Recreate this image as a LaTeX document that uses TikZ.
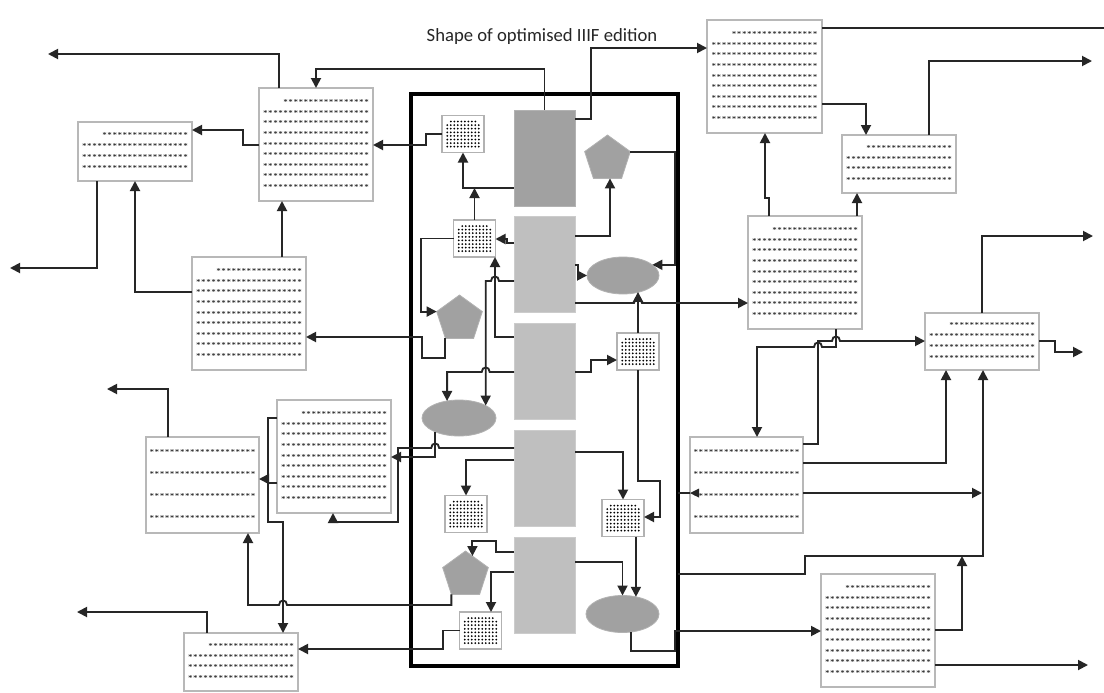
\documentclass[tikz,border=0pt]{standalone}
\usepackage{fontspec}
\newfontfamily\carlito{Carlito}
\usetikzlibrary{arrows.meta,shapes.geometric,calc}

\newcommand{\sA}{*****************}
\newcommand{\sB}{*********************}
\newcommand{\nineL}{\sA\\\sB\\\sB\\\sB\\\sB\\\sB\\\sB\\\sB\\\sB}
\newcommand{\fourL}{\sA\\\sB\\\sB\\\sB}
\newcommand{\fourE}{\sB\\\sB\\\sB\\\sB}

\tikzset{
 ln/.style={draw=black!85, line width=1.4pt},
 arr/.style={ln, -{Triangle[length=7.5pt,width=7.5pt]}},
 doc/.style={draw=black!28, line width=0.9pt, fill=white, inner sep=0pt, outer sep=0pt, align=right, text=black!85, font=\bfseries\fontsize{5}{7.9}\selectfont},
 docE/.style={doc, font=\bfseries\fontsize{5}{16.5}\selectfont},
 docF/.style={doc, font=\bfseries\fontsize{5}{8.2}\selectfont},
 blkA/.style={fill=black!37, draw=black!30, line width=0.6pt, minimum width=45.75pt, minimum height=72pt, inner sep=0pt, outer sep=0pt},
 blkB/.style={blkA, fill=black!25, draw=black!20},
 gbx/.style={draw=black!30, fill=white, line width=0.8pt, minimum width=31.5pt, minimum height=27.75pt, inner sep=0pt, outer sep=0pt},
 pent/.style={regular polygon, regular polygon sides=5, minimum size=36pt, fill=black!37, draw=black!30, line width=0.6pt, inner sep=0pt, outer sep=0pt},
 ell/.style={ellipse, fill=black!37, draw=black!30, line width=0.6pt, inner sep=0pt, outer sep=0pt},
 frm/.style={draw=black, line width=2.4pt, minimum width=200.25pt, minimum height=429pt, inner sep=0pt, outer sep=0pt},
}

\newcommand{\docbox}[7]{\node[#7, minimum width={(#4-#2)*0.75pt}, minimum height={(#5-#3)*0.75pt}] (#1) at ({(#2+#4)/2},{(#3+#5)/2}) {#6};}

\newcommand{\gbox}[3]{%
 \node[gbx] (#1) at (#2,#3) {};
 \foreach \gi in {1,...,8} {\fill[black] ({#2-15.75+3.5*\gi},{#3-12.5}) circle (1.0);}
 \foreach \gj in {1,...,7} {\foreach \gi in {0,...,9} {\fill[black] ({#2-15.75+3.5*\gi},{#3-12.5+3.6*\gj}) circle (1.0);}}
}

\begin{document}
\begin{tikzpicture}[x=0.75pt,y=-0.75pt]
\fill[white] (0,0) rectangle (1104,693);
\useasboundingbox (0,0) rectangle (1104,693);

\node[font=\carlito\fontsize{14}{16}\selectfont, text=black!85, anchor=base] (title) at (542,41.5) {Shape of optimised IIIF edition};

\node[frm] (frame) at (544.5,380) {};

% blocks
\node[blkA] (r1) at (544.5,158) {};
\node[blkB] (r2) at (544.5,264) {};
\node[blkB] (r3) at (544.5,371) {};
\node[blkB] (r4) at (544.5,478) {};
\node[blkB] (r5) at (544.5,585) {};

% pentagons
\node[pent] (P1) at (607.5,159) {};
\node[pent] (P2) at (459.5,319) {};
\node[pent] (P3) at (465.5,575) {};

% ellipses
\node[ell, minimum width=54pt, minimum height=27.75pt] (E1) at (623,275.5) {};
\node[ell, minimum width=55.5pt, minimum height=27pt] (E2) at (459,418) {};
\node[ell, minimum width=54.75pt, minimum height=27.75pt] (E3) at (622.5,614) {};

% grid boxes
\gbox{G1}{463}{134}
\gbox{G2}{474.5}{238.5}
\gbox{G3}{638}{351.5}
\gbox{G4}{466}{514}
\gbox{G5}{623}{518}
\gbox{G6}{480.5}{630.5}

% text boxes
\docbox{L1}{78}{122}{192}{181}{\fourL}{docF}
\docbox{L2}{259}{88}{373}{201}{\nineL}{doc}
\docbox{L3}{192}{257}{306}{370}{\nineL}{doc}
\docbox{L4}{146}{437}{259}{533}{\fourE}{docE}
\docbox{L5}{277}{400}{391}{513}{\nineL}{doc}
\docbox{L6}{184}{633}{298}{691}{\fourL}{docF}
\docbox{R1}{707}{20}{822}{133}{\nineL}{doc}
\docbox{R2}{842}{135}{956}{193}{\fourL}{docF}
\docbox{R3}{748}{216}{862}{329}{\nineL}{doc}
\docbox{R4}{925}{313}{1039}{370}{\fourL}{docF}
\docbox{R5}{690}{437}{803}{533}{\fourE}{docE}
\docbox{R6}{821}{574}{935}{687}{\nineL}{doc}

% helper coordinates
\coordinate (o1) at (48,54);
\coordinate (o2) at (10,268);
\coordinate (o3) at (107,389);
\coordinate (o4) at (77,612);
\coordinate (o5) at (1092,61);
\coordinate (o6) at (1093,236);
\coordinate (o7) at (1083,352);
\coordinate (o8) at (1088,665);
\coordinate (o9) at (1104,28);
\coordinate (j1) at (982,493);
\coordinate (j2) at (962,556);
\coordinate (P2c3) at (P2.corner 3);
\coordinate (P2c2) at (P2.corner 2);
\coordinate (P3c3) at (P3.corner 3);
\coordinate (P1c5) at (P1.corner 5);

% left side connectors
\draw[arr] (L2.north -| 279,0) |- (o1);
\draw[arr] (r1.north) |- (316,69) -- (L2.north -| 316,0);
\draw[arr] (L2.west |- 0,145) -- (243,145) |- (L1.east |- 0,130);
\draw[arr] (G1.west) -- (426,134) |- (L2.east |- 0,145);
\draw[arr] (L1.south -| 97,0) |- (o2);
\draw[arr] (L3.west |- 0,292) -| (L1.south -| 135,0);
\draw[arr] (L3.north -| 282,0) -- (L2.south -| 282,0);
\draw[arr] (P2c3) -- (P2c3 |- 0,358) -| (422,337) -- (L3.east |- 0,337);

% inside frame, upper part
\draw[arr] (r1.west |- 0,188) -| (G1.south);
\draw[arr] (G2.north) -- (G2.north |- 0,188);
\draw[arr] (r1.east |- 0,119) -- (591,119) |- (R1.west |- 0,48);
\draw[arr] (P1c5) -- (P1c5 -| 675,0) |- (E1.20);
\draw[arr] (r2.east |- 0,236) -| (P1.south -| 610,0);
\draw[arr] (r2.west |- 0,243) -- (507,243) |- (G2.east |- 0,239);
\draw[arr] (r2.east |- 0,265) -- (578,265) |- (E1.west);
\draw[arr] (G2.west) -- (421,238.5) |- (P2c2);
\draw[arr] (r2.west |- 0,281) -- (499,281) .. controls (499,275) and (491,275) .. (491,281) -| (E2.25);
\draw[arr] (r3.west |- 0,337) -| (G2.south -| 495,0);
\draw[arr] (r3.west |- 0,372) -- (489.7,372) .. controls (489.7,366) and (481.7,366) .. (481.7,372) -| (E2.125);
\draw[arr] (r3.east |- 0,372) -- (591,372) |- (G3.west |- 0,360);
\draw[arr] (G3.north) -- (G3.north |- E1.315);
\draw[arr] (r2.east |- 0,303) -- (634,303) .. controls (634,297) and (642,297) .. (642,303) -- (R3.west |- 0,303);
\draw[arr] (G3.south) -- (G3.south |- 0,481) -| (660,517) -- (G5.east |- 0,517);

% inside frame, lower part
\draw[arr] (E2.210) -- (E2.210 |- 0,457) -- (L5.east |- 0,457);
\draw[arr] (r4.west |- 0,448) -- (439.2,448) .. controls (439.2,442) and (431.2,442) .. (431.2,448) -- (398,448) |- (333,522) -- (L5.south -| 333,0);
\draw[arr] (r4.west |- 0,460) -| (G4.north);
\draw[arr] (r4.east |- 0,452) -| (G5.north);
\draw[arr] (r5.east |- 0,562) -| (E3.north);
\draw[arr] (G5.south -| E3.52) -- (E3.52);
\draw[arr] (r5.west |- 0,552) -- (496,552) |- (P3.70 |- 0,541) -- (P3.70);
\draw[arr] (r5.west |- 0,572) -| (G6.north -| 491,0);
\draw[arr] (E3.295) -- (E3.295 |- 0,651) -- (675,651) |- (R6.west |- 0,631);

% lower left connectors
\draw[arr] (L5.west |- 0,418) -- (268,418) |- (L4.east |- 0,479);
\draw[arr] (L5.west |- 0,483) -- (268,483) |- (283,522) -- (L6.north -| 283,0);
\draw[arr] (L4.north -| 168,0) |- (o3);
\draw[arr] (P3c3) -- (P3c3 |- 0,605) -- (287,605) .. controls (287,599) and (279,599) .. (279,605) -| (L4.south -| 248,0);
\draw[arr] (L6.north -| 207,0) |- (o4);
\draw[arr] (G6.west) -- (G6.west -| 443,0) |- (L6.east |- 0,649);

% right side connectors
\draw[ln] (R1.east |- 0,28) -- (o9);
\draw[arr] (R1.east |- 0,104) -| (R2.north -| 866,0);
\draw[arr] (R2.north -| 929,0) |- (o5);
\draw[arr] (R3.north -| 769,0) -- (769,198) -| (R1.south -| 765,0);
\draw[arr] (R3.north -| 857,0) -- (R2.south -| 857,0);
\draw[arr] (R4.north -| 982,0) |- (o6);
\draw[arr] (R4.east |- 0,341) -- (1055,341) |- (o7);
\draw[arr] (R3.south -| 836,0) -- (836,347) -- (822,347) .. controls (822,341) and (814,341) .. (814,347) -- (757,347) -- (R5.north -| 757,0);
\draw[arr] (R5.east |- 0,444) -- (818,444) -- (818,341) -- (832,341) .. controls (832,335) and (840,335) .. (840,341) -- (R4.west |- 0,341);
\draw[arr] (R5.east |- 0,463) -| (R4.south -| 946,0);
\draw[arr] (frame.east |- 0,574) -- (805,574) |- (983,556) -- (R4.south -| 983,0);
\draw[arr] (R5.east |- 0,493) -- (j1);
\draw[arr] (R6.east |- 0,630) -| (j2);
\draw[arr] (R6.east |- 0,665) -- (o8);
\draw[ln] (frame.east |- 0,493) -- (R5.west |- 0,493);
\fill[black!85] (R5.west |- 0,493) -- ++(9,-4.5) -- ++(0,9) -- cycle;

\end{tikzpicture}
\end{document}
